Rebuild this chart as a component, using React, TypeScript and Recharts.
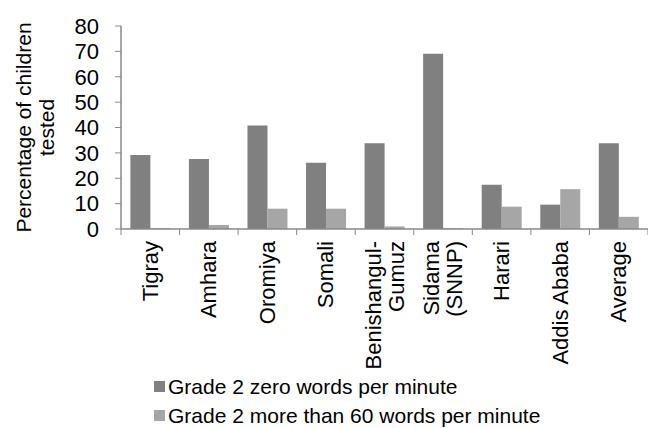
import React from "react";
import {
  BarChart,
  Bar,
  XAxis,
  YAxis,
  Legend,
  Label,
} from "recharts";

const REGIONS = [
  "Tigray",
  "Amhara",
  "Oromiya",
  "Somali",
  "Benishangul-\nGumuz",
  "Sidama\n(SNNP)",
  "Harari",
  "Addis Ababa",
  "Average",
];
const ZERO_WORDS = [29.2, 27.6, 40.8, 26.1, 33.8, 69.1, 17.4, 9.6, 33.8];
const OVER_60_WORDS = [0.3, 1.6, 8.0, 8.0, 1.0, 0.3, 8.8, 15.7, 4.8];
const Y_TICKS = [0, 10, 20, 30, 40, 50, 60, 70, 80];

const SERIES_ZERO = "Grade 2 zero words per minute";
const SERIES_60 = "Grade 2 more than 60 words per minute";
const SERIES_ORDER = [SERIES_ZERO, SERIES_60];

const DARK = "#808080";
const LIGHT = "#a6a6a6";
const AXIS = "#898989";
const FONT = "'Liberation Sans', Arial, sans-serif";

const data = REGIONS.map((region, i) => ({
  region,
  zero: ZERO_WORDS[i],
  over60: OVER_60_WORDS[i],
}));

// category label, rotated, with Excel-style tick marks on the band edges
function RegionTick(props: any) {
  const { x, y, payload, index, width, visibleTicksCount } = props;
  const half =
    payload && payload.offset ? payload.offset : width / visibleTicksCount / 2;
  const lines = String(payload.value).split("\n");
  const lh = 23;
  const ty = y + 12;
  return (
    <g>
      <line x1={x - half} x2={x - half} y1={y} y2={y + 6} stroke={AXIS} />
      {index === visibleTicksCount - 1 && (
        <line x1={x + half} x2={x + half} y1={y} y2={y + 6} stroke={AXIS} />
      )}
      <text
        x={x}
        y={ty}
        transform={`rotate(-90, ${x}, ${ty})`}
        textAnchor="end"
        fontSize={22}
        fontFamily={FONT}
        fill="#000"
      >
        {lines.map((l, i) => (
          <tspan
            key={i}
            x={x}
            dy={i === 0 ? -((lines.length - 1) / 2) * lh + 7.5 : lh}
          >
            {l}
          </tspan>
        ))}
      </text>
    </g>
  );
}

function YTitle(props: any) {
  const vb = props.viewBox;
  const cy = vb.y + vb.height / 2;
  return (
    <text
      transform={`rotate(-90, 0, ${cy})`}
      x={0}
      y={cy}
      textAnchor="middle"
      fontSize={21}
      fontFamily={FONT}
      fill="#000"
    >
      <tspan x={0} dy={31}>
        Percentage of children
      </tspan>
      <tspan x={0} dy={23}>
        tested
      </tspan>
    </text>
  );
}

function LegendRows(props: any) {
  const items = [...(props.payload || [])].sort(
    (a: any, b: any) =>
      SERIES_ORDER.indexOf(a.value) - SERIES_ORDER.indexOf(b.value)
  );
  return (
    <div style={{ fontFamily: FONT, fontSize: 21, color: "#000" }}>
      {items.map((it: any) => (
        <div
          key={it.value}
          style={{ display: "flex", alignItems: "center", height: 29 }}
        >
          <span
            style={{
              width: 11,
              height: 11,
              background: it.color,
              marginRight: 3,
              display: "inline-block",
            }}
          />
          <span style={{ whiteSpace: "nowrap" }}>{it.value}</span>
        </div>
      ))}
    </div>
  );
}

export default function App() {
  return (
    <div style={{ position: "absolute", left: 0, top: 0, background: "#fff" }}>
      <BarChart
        width={648}
        height={428}
        data={data}
        margin={{ top: 26, right: 0, left: 0, bottom: 0 }}
        barGap={0}
        barCategoryGap="16%"
      >
        <XAxis
          dataKey="region"
          interval={0}
          height={199}
          tickLine={false}
          tickSize={0}
          tickMargin={0}
          axisLine={{ stroke: AXIS, strokeWidth: 1.5 }}
          tick={<RegionTick />}
        />
        <YAxis
          width={121}
          domain={[0, 80]}
          ticks={Y_TICKS}
          interval={0}
          tickSize={6}
          tickMargin={16}
          axisLine={{ stroke: AXIS, strokeWidth: 1.5 }}
          tickLine={{ stroke: AXIS }}
          tick={{ fontSize: 22, fontFamily: FONT, fill: "#000" }}
        >
          <Label content={<YTitle />} />
        </YAxis>
        <Legend
          layout="horizontal"
          verticalAlign="middle"
          align="center"
          content={<LegendRows />}
          wrapperStyle={{ position: "absolute", left: 154, top: 372, width: 420 }}
        />
        <Bar
          dataKey="zero"
          name={SERIES_ZERO}
          fill={DARK}
          isAnimationActive={false}
        />
        <Bar
          dataKey="over60"
          name={SERIES_60}
          fill={LIGHT}
          isAnimationActive={false}
        />
      </BarChart>
    </div>
  );
}
